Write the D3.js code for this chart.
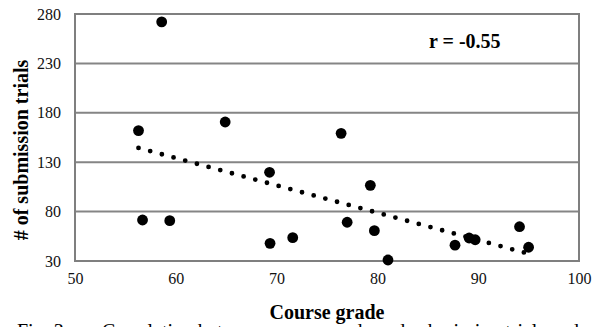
<!DOCTYPE html>
<html>
<head>
<meta charset="utf-8">
<script src="https://cdn.jsdelivr.net/npm/d3@7"></script>
<style>
  body { margin: 0; background: #fff; overflow: hidden; }
  svg text { font-family: "Liberation Serif", "Times New Roman", Times, "DejaVu Serif", serif !important; }
</style>
</head>
<body>
<div class="chartDiv"></div>
<script>
// course grade vs number of submission trials
var grades = [58.6, 56.3, 56.7, 59.4, 64.9, 69.3, 69.35, 71.6, 76.4, 77.0, 79.3, 79.7, 81.05, 87.7, 89.1, 89.7, 94.1, 95.0];
var trials = [272, 162, 71.5, 70.8, 170.7, 119.8, 47.9, 53.6, 159.2, 69.2, 106.6, 60.7, 31, 46, 53.3, 51.5, 64.7, 43.9];
var xTicks = [50, 60, 70, 80, 90, 100];
var yTicks = [30, 80, 130, 180, 230, 280];
var rLabel = "r = -0.55";

var W = 597, H = 327;
var margin = {top: 14, right: 18, bottom: 66, left: 75},
    width = W - margin.left - margin.right,
    height = H - margin.top - margin.bottom;

var svg = d3.select('div.chartDiv').append('svg')
  .attr('width', W).attr('height', H);

var g = svg.append('g').attr('transform', 'translate(' + margin.left + ',' + margin.top + ')');

var xScale = d3.scaleLinear().domain([50, 100]).range([0, width]);
var yScale = d3.scaleLinear().domain([30, 280]).range([height, 0]);

// horizontal gridlines
g.selectAll('line.grid').data(yTicks).enter().append('line')
  .attr('class', 'grid')
  .attr('x1', 0).attr('x2', width)
  .attr('y1', function(d) { return yScale(d); })
  .attr('y2', function(d) { return yScale(d); })
  .attr('stroke', '#858585').attr('stroke-width', 2);

// frame
g.append('rect').attr('width', width).attr('height', height)
  .attr('fill', 'none').attr('stroke', '#7f7f7f').attr('stroke-width', 2);

// axes (labels only)
var xAxis = d3.axisBottom(xScale).tickValues(xTicks).tickSize(0).tickPadding(12);
var gx = g.append('g').attr('transform', 'translate(0,' + height + ')').call(xAxis);
var yAxis = d3.axisLeft(yScale).tickValues(yTicks).tickSize(0).tickPadding(14);
var gy = g.append('g').call(yAxis);
[gx, gy].forEach(function(a) {
  a.attr('font-family', null).attr('font-size', null);
  a.select('.domain').remove();
  a.selectAll('text').attr('font-size', 16).attr('fill', '#111');
});

// linear trendline through the points
var pts = grades.map(function(x, i) { return [x, trials[i]]; });
var mx = d3.mean(grades), my = d3.mean(trials);
var sxy = d3.sum(pts, function(p) { return (p[0] - mx) * (p[1] - my); });
var sxx = d3.sum(pts, function(p) { return (p[0] - mx) * (p[0] - mx); });
var slope = sxy / sxx, icpt = my - slope * mx;
var xr = d3.extent(grades);
g.append('line')
  .attr('x1', xScale(xr[0])).attr('y1', yScale(icpt + slope * xr[0]))
  .attr('x2', xScale(xr[1])).attr('y2', yScale(icpt + slope * xr[1]))
  .attr('stroke', '#000').attr('stroke-width', 4.8)
  .attr('stroke-linecap', 'round').attr('stroke-dasharray', '0,12.1');

// points
g.selectAll('circle.pt').data(pts).enter().append('circle')
  .attr('class', 'pt')
  .attr('cx', function(d) { return xScale(d[0]); })
  .attr('cy', function(d) { return yScale(d[1]); })
  .attr('r', 5.4).attr('fill', '#000');

// r annotation
svg.append('text').attr('x', 429).attr('y', 48)
  .attr('font-size', 20).attr('font-weight', 'bold').text(rLabel);

// axis titles
svg.append('text').attr('transform', 'translate(28,150) rotate(-90)')
  .attr('text-anchor', 'middle').attr('font-size', 20).attr('font-weight', 'bold')
  .text('# of submission trials');
svg.append('text').attr('x', margin.left + width / 2).attr('y', 319)
  .attr('text-anchor', 'middle').attr('font-size', 20).attr('font-weight', 'bold')
  .text('Course grade');

// caption, cut off by the bottom edge
svg.append('text').attr('x', 17).attr('y', 338).attr('font-size', 20).text('Fig. 3.');
svg.append('text').attr('x', 102).attr('y', 338).attr('font-size', 20)
  .text('Correlation between course grade and submission trials and');
</script>
</body>
</html>
